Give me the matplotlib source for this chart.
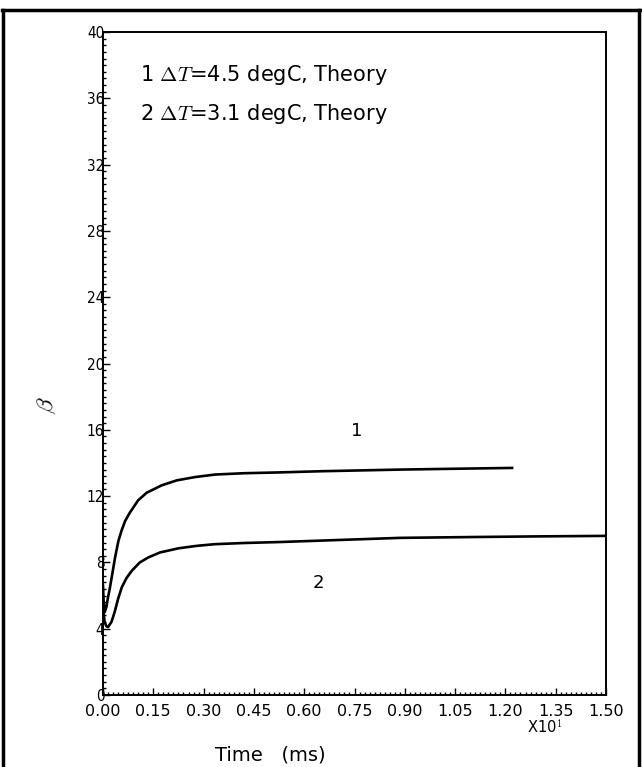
import matplotlib
matplotlib.use("Agg")
import matplotlib.pyplot as plt
from matplotlib.lines import Line2D
from matplotlib.ticker import MultipleLocator, FuncFormatter

plt.rcParams['font.family'] = ['DejaVu Sans']
plt.rcParams['mathtext.fontset'] = 'cm'

# Curve 1: dT = 4.5 degC, theory (time in ms)
t1 = [0.0, 0.02, 0.05, 0.1, 0.15, 0.2, 0.26, 0.36, 0.46, 0.55, 0.66, 0.8, 1.05, 1.3,
      1.75, 2.2, 2.75, 3.34, 4.2, 5.28, 6.5, 8.86, 10.5, 12.2]
b1 = [6.6, 5.6, 5.0, 5.3, 5.9, 6.4, 7.1, 8.3, 9.3, 9.9, 10.5, 11.0, 11.75, 12.2,
      12.65, 12.95, 13.15, 13.3, 13.38, 13.43, 13.5, 13.6, 13.65, 13.7]
# Curve 2: dT = 3.1 degC, theory
t2 = [0.0, 0.05, 0.1, 0.15, 0.25, 0.3, 0.36, 0.45, 0.56, 0.7, 0.86, 1.1, 1.35, 1.7,
      2.25, 2.8, 3.34, 4.2, 5.28, 7.0, 8.86, 11.0, 13.0, 15.0]
b2 = [5.2, 4.4, 4.15, 4.1, 4.4, 4.7, 5.1, 5.8, 6.5, 7.05, 7.5, 8.0, 8.3, 8.6,
      8.85, 9.0, 9.1, 9.17, 9.23, 9.35, 9.48, 9.53, 9.57, 9.6]

legend_lines = [r"1 $\Delta T$=4.5 degC, Theory", r"2 $\Delta T$=3.1 degC, Theory"]
curve_labels = ["1", "2"]
label_pos = [(7.57, 15.9), (6.41, 6.76)]

W, H = 642, 767
fig = plt.figure(figsize=(W / 100, H / 100), dpi=100)
ax = fig.add_axes([103 / W, 1 - 695 / H, (606 - 103) / W, (695 - 32) / H])

ax.plot(t1, b1, color='black', lw=1.9, solid_joinstyle='round')
ax.plot(t2, b2, color='black', lw=1.9, solid_joinstyle='round')

ax.set_xlim(0, 15)
ax.set_ylim(0, 40)
ax.xaxis.set_major_locator(MultipleLocator(1.5))
ax.xaxis.set_minor_locator(MultipleLocator(0.15))
ax.yaxis.set_major_locator(MultipleLocator(4))
ax.yaxis.set_minor_locator(MultipleLocator(0.4))
ax.xaxis.set_major_formatter(FuncFormatter(lambda v, p: f"{v / 10:.2f}"))
ax.yaxis.set_major_formatter(FuncFormatter(lambda v, p: f"{int(round(v))}"))

ax.tick_params(which='both', direction='in', top=False, right=False, width=1.0)
ax.tick_params(which='major', length=5)
ax.tick_params(which='minor', length=2.5)
ax.tick_params(axis='x', labelsize=11.5, pad=6.5)
ax.tick_params(axis='y', labelsize=11, pad=-1)
for lab in ax.get_yticklabels():
    lab.set_fontstretch('condensed')
for s in ax.spines.values():
    s.set_linewidth(1.4)

for (x, y), s in zip(label_pos, curve_labels):
    ax.text(x, y, s, fontsize=13, ha='center', va='center')

ax.text((140 - 103) / (606 - 103), 1 - (75 - 32) / (695 - 32), legend_lines[0],
        transform=ax.transAxes, fontsize=15, ha='left', va='center')
ax.text((140 - 103) / (606 - 103), 1 - (114 - 32) / (695 - 32), legend_lines[1],
        transform=ax.transAxes, fontsize=15, ha='left', va='center')

fig.text(545 / W, 1 - 727 / H, r"X10$^1$", fontsize=10.5, ha='center', va='center')
fig.text(270 / W, 1 - 755 / H, "Time   (ms)", fontsize=14, ha='center', va='center')
fig.text(47 / W, 1 - 405 / H, r"$\beta$", fontsize=16, ha='center', va='center', rotation=80)

# outer frame
fig.add_artist(Line2D([3 / W, 3 / W], [0, 1 - 10 / H], color='black', lw=2.5, transform=fig.transFigure))
fig.add_artist(Line2D([2 / W, 640 / W], [1 - 10 / H, 1 - 10 / H], color='black', lw=2.5, transform=fig.transFigure))
fig.add_artist(Line2D([639 / W, 639 / W], [0, 1 - 10 / H], color='black', lw=2.5, transform=fig.transFigure))

fig.savefig("out.png", dpi=100)
